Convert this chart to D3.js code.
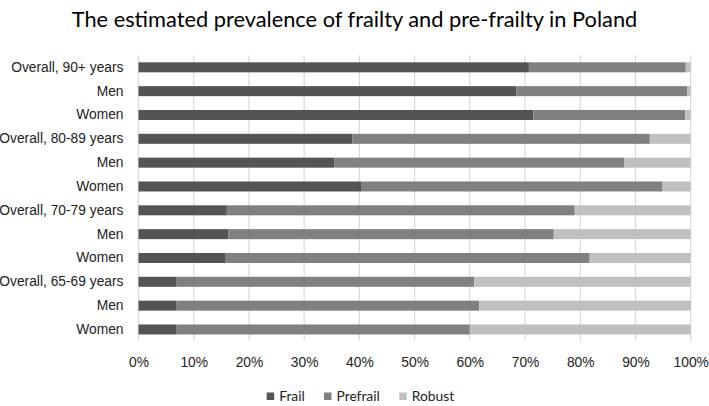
<!DOCTYPE html>
<html>
<head>
<meta charset="utf-8">
<script src="https://cdn.jsdelivr.net/npm/d3@7"></script>
<style>
    body { margin: 0; background: #fff; }
    svg { display: block; font-family: Lato, "Open Sans", sans-serif; }
</style>
</head>
<body>
<svg id="chart" width="709" height="406"></svg>
<script>
"use strict";

// Rows from top to bottom, values in percent.
const groups = ["Overall, 90+ years", "Men", "Women",
    "Overall, 80-89 years", "Men", "Women",
    "Overall, 70-79 years", "Men", "Women",
    "Overall, 65-69 years", "Men", "Women"];
const frail = [70.7, 68.4, 71.5, 38.7, 35.5, 40.3, 16.0, 16.3, 15.8, 6.8, 6.8, 6.8];
const prefrail = [28.4, 31.0, 27.5, 53.9, 52.5, 54.6, 63.0, 58.9, 65.9, 54.0, 54.9, 53.2];
const robust = [0.9, 0.6, 1.0, 7.4, 12.0, 5.1, 21.0, 24.8, 18.3, 39.2, 38.3, 40.0];
const seriesNames = ["Frail", "Prefrail", "Robust"];
const seriesColors = ["#545454", "#808080", "#c0c0c0"];
const xTicks = [0, 10, 20, 30, 40, 50, 60, 70, 80, 90, 100];

const svg = d3.select("#chart");

const PLOT_LEFT = 138.5;
const PLOT_RIGHT = 690.7;
const PLOT_TOP = 55.4;
const PLOT_BOTTOM = 341.4;

let x = d3.scaleLinear().domain([0, 100]).range([PLOT_LEFT, PLOT_RIGHT]);
let y = d3.scaleBand()
    .domain(d3.range(groups.length))
    .range([PLOT_TOP, PLOT_BOTTOM])
    .paddingInner(0.58)
    .paddingOuter(0.29);

// Title
svg.append("text")
    .attr("x", 354.5)
    .attr("y", 27)
    .attr("text-anchor", "middle")
    .style("font-size", "21.8px")
    .style("fill", "#000")
    .text("The estimated prevalence of frailty and pre-frailty in Poland");

// Vertical grid lines
svg.append("g")
    .selectAll("line")
    .data(xTicks)
    .join("line")
    .attr("x1", d => x(d))
    .attr("x2", d => x(d))
    .attr("y1", PLOT_TOP)
    .attr("y2", PLOT_BOTTOM - 1)
    .attr("stroke", "#d9d9d9")
    .attr("stroke-width", 1.2);

// Stack the three series for every row.
let rows = groups.map((g, i) => ({ i: i, Frail: frail[i], Prefrail: prefrail[i], Robust: robust[i] }));
let stacked = d3.stack().keys(seriesNames)(rows);

svg.append("g")
    .selectAll("g")
    .data(stacked)
    .join("g")
    .attr("fill", (d, k) => seriesColors[k])
    .selectAll("rect")
    .data(d => d)
    .join("rect")
    .attr("x", d => x(d[0]))
    .attr("width", d => x(d[1]) - x(d[0]))
    .attr("y", d => y(d.data.i))
    .attr("height", y.bandwidth());

// Category axis
let yAxis = svg.append("g")
    .attr("transform", "translate(" + PLOT_LEFT + ",0)")
    .call(d3.axisLeft(y).tickSize(0).tickPadding(15).tickFormat(i => groups[i]));
yAxis.select(".domain").remove();
yAxis.selectAll("text")
    .style("font-size", "13.8px")
    .style("fill", "#222")
    .attr("font-family", null);

// Percent axis
let xAxis = svg.append("g")
    .attr("transform", "translate(0," + PLOT_BOTTOM + ")")
    .call(d3.axisBottom(x).tickValues(xTicks).tickSize(0).tickPadding(16).tickFormat(d => d + "%"));
xAxis.select(".domain").remove();
xAxis.selectAll("text")
    .style("font-size", "13.8px")
    .style("fill", "#222")
    .attr("font-family", null);

// Legend
const legendX = [266.7, 324, 399.3];
let legend = svg.append("g")
    .selectAll("g")
    .data(seriesNames)
    .join("g")
    .attr("transform", (d, k) => "translate(" + legendX[k] + ",392.5)");
legend.append("rect")
    .attr("width", 7.5)
    .attr("height", 7.5)
    .attr("fill", (d, k) => seriesColors[k]);
legend.append("text")
    .attr("x", 12.5)
    .attr("y", 8.5)
    .style("font-size", "13.8px")
    .style("fill", "#222")
    .text(d => d);
</script>
</body>
</html>
